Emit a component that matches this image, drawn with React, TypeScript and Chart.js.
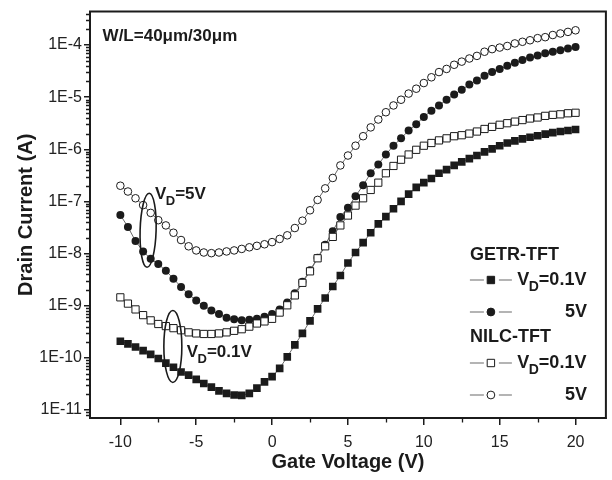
import { useEffect, useRef } from "react";
import { Chart, registerables } from "chart.js";

Chart.register(...registerables);

const gateVoltage = [
  -10, -9.5, -9, -8.5, -8, -7.5, -7, -6.5, -6, -5.5, -5, -4.5, -4, -3.5, -3, -2.5, -2, -1.5, -1, -0.5,
  0, 0.5, 1, 1.5, 2, 2.5, 3, 3.5, 4, 4.5, 5, 5.5, 6, 6.5, 7, 7.5, 8, 8.5, 9, 9.5,
  10, 10.5, 11, 11.5, 12, 12.5, 13, 13.5, 14, 14.5, 15, 15.5, 16, 16.5, 17, 17.5, 18, 18.5, 19, 19.5, 20,
];

// GETR-TFT, VD = 0.1 V (filled squares)
const getrVd01 = [
  2.09e-10, 1.86e-10, 1.62e-10, 1.38e-10, 1.17e-10, 9.77e-11, 7.94e-11, 6.61e-11, 5.37e-11, 4.68e-11,
  3.89e-11, 3.24e-11, 2.75e-11, 2.34e-11, 2.09e-11, 1.95e-11, 1.91e-11, 2.09e-11, 2.63e-11, 3.47e-11,
  4.37e-11, 6.31e-11, 1.05e-10, 1.78e-10, 2.95e-10, 5.13e-10, 8.71e-10, 1.41e-9, 2.34e-9, 3.8e-9,
  6.61e-9, 1.05e-8, 1.62e-8, 2.51e-8, 3.72e-8, 5.13e-8, 7.24e-8, 1.0e-7, 1.38e-7, 1.86e-7,
  2.29e-7, 2.75e-7, 3.47e-7, 4.07e-7, 4.9e-7, 5.75e-7, 6.61e-7, 7.59e-7, 8.91e-7, 1.02e-6,
  1.17e-6, 1.32e-6, 1.45e-6, 1.58e-6, 1.7e-6, 1.82e-6, 1.95e-6, 2.09e-6, 2.19e-6, 2.29e-6, 2.4e-6,
];

// GETR-TFT, VD = 5 V (filled circles)
const getrVd5 = [
  5.5e-8, 3.24e-8, 1.74e-8, 1.1e-8, 7.94e-9, 6.31e-9, 4.68e-9, 3.31e-9, 2.29e-9, 1.66e-9,
  1.26e-9, 1.0e-9, 8.13e-10, 6.92e-10, 5.89e-10, 5.5e-10, 5.25e-10, 5.37e-10, 5.62e-10, 6.17e-10,
  6.92e-10, 8.51e-10, 1.15e-9, 1.74e-9, 2.88e-9, 4.79e-9, 8.32e-9, 1.48e-8, 2.69e-8, 5.01e-8,
  7.59e-8, 1.26e-7, 2.04e-7, 3.47e-7, 5.13e-7, 7.94e-7, 1.17e-6, 1.62e-6, 2.29e-6, 3.02e-6,
  4.17e-6, 5.5e-6, 6.92e-6, 8.91e-6, 1.12e-5, 1.38e-5, 1.74e-5, 2.09e-5, 2.57e-5, 3.02e-5,
  3.47e-5, 3.98e-5, 4.57e-5, 5.13e-5, 5.75e-5, 6.31e-5, 6.92e-5, 7.41e-5, 7.94e-5, 8.51e-5, 9.12e-5,
];

// NILC-TFT, VD = 0.1 V (open squares)
const nilcVd01 = [
  1.45e-9, 1.1e-9, 8.51e-10, 6.61e-10, 5.25e-10, 4.47e-10, 4.07e-10, 3.72e-10, 3.39e-10, 3.09e-10,
  2.95e-10, 2.88e-10, 2.88e-10, 2.95e-10, 3.09e-10, 3.31e-10, 3.55e-10, 3.98e-10, 4.57e-10, 5.01e-10,
  5.62e-10, 7.41e-10, 1.02e-9, 1.58e-9, 2.75e-9, 4.57e-9, 8.13e-9, 1.38e-8, 2.09e-8, 3.47e-8,
  5.37e-8, 8.32e-8, 1.15e-7, 1.66e-7, 2.29e-7, 3.47e-7, 4.79e-7, 6.31e-7, 7.94e-7, 9.77e-7,
  1.17e-6, 1.32e-6, 1.48e-6, 1.62e-6, 1.78e-6, 1.86e-6, 2.0e-6, 2.19e-6, 2.45e-6, 2.69e-6,
  2.95e-6, 3.16e-6, 3.39e-6, 3.63e-6, 3.89e-6, 4.07e-6, 4.37e-6, 4.57e-6, 4.68e-6, 4.9e-6, 5.01e-6,
];

// NILC-TFT, VD = 5 V (open circles)
const nilcVd5 = [
  2.0e-7, 1.55e-7, 1.15e-7, 8.51e-8, 6.03e-8, 4.37e-8, 3.47e-8, 2.51e-8, 1.82e-8, 1.38e-8,
  1.15e-8, 1.05e-8, 1.02e-8, 1.05e-8, 1.1e-8, 1.15e-8, 1.23e-8, 1.32e-8, 1.41e-8, 1.51e-8,
  1.66e-8, 1.91e-8, 2.24e-8, 3.09e-8, 4.27e-8, 6.76e-8, 1.07e-7, 1.78e-7, 2.82e-7, 4.9e-7,
  7.59e-7, 1.17e-6, 1.78e-6, 2.63e-6, 3.72e-6, 5.13e-6, 6.92e-6, 8.91e-6, 1.17e-5, 1.45e-5,
  1.86e-5, 2.4e-5, 3.02e-5, 3.47e-5, 4.17e-5, 4.79e-5, 5.5e-5, 6.17e-5, 7.41e-5, 8.32e-5,
  8.91e-5, 9.55e-5, 1.07e-4, 1.15e-4, 1.23e-4, 1.35e-4, 1.41e-4, 1.55e-4, 1.66e-4, 1.78e-4, 1.91e-4,
];

const xMajorTicks = [-10, -5, 0, 5, 10, 15, 20];
const xMinorTicks = [-7.5, -2.5, 2.5, 7.5, 12.5, 17.5];
const yMajorTicks = [1e-11, 1e-10, 1e-9, 1e-8, 1e-7, 1e-6, 1e-5, 1e-4];
const yTickLabels = ["1E-11", "1E-10", "1E-9", "1E-8", "1E-7", "1E-6", "1E-5", "1E-4"];
const yMinorDecades = [1e-12, 1e-11, 1e-10, 1e-9, 1e-8, 1e-7, 1e-6, 1e-5, 1e-4];
const yMinorMultipliers = [2, 3, 4, 5, 6, 7, 8, 9];

const FONT = "'Liberation Sans', Arial, Helvetica, sans-serif";
const INK = "#1b1b1b";
const LINE = "#6a6a6a";

// annotation anchors in data coordinates
const annotVd5 = { x: -7.72, y: 1.4e-7 };
const annotVd01 = { x: -5.63, y: 1.3e-10 };
const annotWL = { x: -11.17, y: 1.46e-4 };
const ellipse5 = { x: -8.17, y: 2.8e-8 };
const ellipse01 = { x: -6.54, y: 1.66e-10 };

function drawVD(ctx: CanvasRenderingContext2D, x: number, y: number, rest: string, size: number, alignRight: boolean) {
  const big = `bold ${size}px ${FONT}`;
  const small = `bold ${Math.round(size * 0.78)}px ${FONT}`;
  ctx.font = big;
  const wV = ctx.measureText("V").width;
  const wRest = ctx.measureText(rest).width;
  ctx.font = small;
  const wD = ctx.measureText("D").width;
  const total = wV + wD + wRest;
  const x0 = alignRight ? x - total : x;
  ctx.textAlign = "left";
  ctx.textBaseline = "middle";
  ctx.font = big;
  ctx.fillText("V", x0, y);
  ctx.font = small;
  ctx.fillText("D", x0 + wV - 0.5, y + size * 0.42);
  ctx.font = big;
  ctx.fillText(rest, x0 + wV + wD - 0.5, y);
}

const overlayPlugin = {
  id: "overlay",
  afterDraw(chart: any) {
    const { ctx, chartArea, scales } = chart;
    const { left, right, top, bottom } = chartArea;
    const xs = scales.x;
    const ys = scales.y;
    ctx.save();
    // frame top/right
    ctx.strokeStyle = INK;
    ctx.lineWidth = 2;
    ctx.beginPath();
    ctx.moveTo(left - 1, top);
    ctx.lineTo(right, top);
    ctx.lineTo(right, bottom + 1);
    ctx.stroke();
    // minor ticks
    ctx.lineWidth = 1.3;
    ctx.beginPath();
    for (const v of xMinorTicks) {
      const px = Math.round(xs.getPixelForValue(v)) + 0.5;
      ctx.moveTo(px, bottom);
      ctx.lineTo(px, bottom + 4.5);
    }
    for (const d of yMinorDecades) {
      for (const k of yMinorMultipliers) {
        const v = k * d;
        if (v <= ys.min || v >= ys.max) continue;
        const py = Math.round(ys.getPixelForValue(v)) + 0.5;
        ctx.moveTo(left, py);
        ctx.lineTo(left - 4, py);
      }
    }
    ctx.stroke();

    // annotations
    ctx.fillStyle = INK;
    ctx.font = `bold 17px ${FONT}`;
    ctx.textAlign = "left";
    ctx.textBaseline = "middle";
    ctx.fillText("W/L=40\u03bcm/30\u03bcm", xs.getPixelForValue(annotWL.x), ys.getPixelForValue(annotWL.y));
    drawVD(ctx, xs.getPixelForValue(annotVd5.x), ys.getPixelForValue(annotVd5.y), "=5V", 17, false);
    drawVD(ctx, xs.getPixelForValue(annotVd01.x), ys.getPixelForValue(annotVd01.y), "=0.1V", 17, false);

    ctx.lineWidth = 1.6;
    ctx.strokeStyle = INK;
    ctx.beginPath();
    ctx.ellipse(xs.getPixelForValue(ellipse5.x), ys.getPixelForValue(ellipse5.y), 8, 37, 0.03, 0, Math.PI * 2);
    ctx.stroke();
    ctx.beginPath();
    ctx.ellipse(xs.getPixelForValue(ellipse01.x), ys.getPixelForValue(ellipse01.y), 9, 36, 0, 0, Math.PI * 2);
    ctx.stroke();

    // legend
    const lx = right - 136;
    const rx = right - 19;
    const mx = lx + 21;
    const rows = [
      { kind: "head", text: "GETR-TFT", y: bottom - 163 },
      { kind: "item", shape: "rect", fill: true, label: "0.1", y: bottom - 138 },
      { kind: "item", shape: "circle", fill: true, label: "5", y: bottom - 106 },
      { kind: "head", text: "NILC-TFT", y: bottom - 81 },
      { kind: "item", shape: "rect", fill: false, label: "0.1", y: bottom - 55 },
      { kind: "item", shape: "circle", fill: false, label: "5", y: bottom - 23 },
    ];
    for (const r of rows) {
      if (r.kind === "head") {
        ctx.fillStyle = INK;
        ctx.font = `bold 18px ${FONT}`;
        ctx.textAlign = "left";
        ctx.textBaseline = "middle";
        ctx.fillText(r.text as string, lx, r.y);
        continue;
      }
      ctx.strokeStyle = LINE;
      ctx.lineWidth = 1.2;
      ctx.beginPath();
      ctx.moveTo(lx, r.y);
      ctx.lineTo(mx - 7, r.y);
      ctx.moveTo(mx + 8, r.y);
      ctx.lineTo(lx + 42, r.y);
      ctx.stroke();
      ctx.fillStyle = r.fill ? INK : "#ffffff";
      ctx.strokeStyle = INK;
      ctx.lineWidth = 1;
      ctx.beginPath();
      if (r.shape === "rect") {
        ctx.rect(mx - 3.7, r.y - 3.7, 7.4, 7.4);
      } else {
        ctx.arc(mx, r.y, 3.9, 0, Math.PI * 2);
      }
      ctx.fill();
      ctx.stroke();
      ctx.fillStyle = INK;
      if (r.label === "0.1") {
        drawVD(ctx, rx, r.y, "=0.1V", 18, true);
      } else {
        ctx.font = `bold 18px ${FONT}`;
        ctx.textAlign = "right";
        ctx.textBaseline = "middle";
        ctx.fillText("5V", rx, r.y);
      }
    }
    ctx.restore();
  },
};

export default function App() {
  const ref = useRef<HTMLCanvasElement | null>(null);
  useEffect(() => {
    if (!ref.current) return;
    const mk = (vals: number[]) => gateVoltage.map((v, i) => ({ x: v, y: vals[i] }));
    const chart = new Chart(ref.current, {
      type: "line",
      data: {
        datasets: [
          {
            label: "NILC-TFT VD=0.1V",
            data: mk(nilcVd01),
            order: 0,
            borderColor: LINE,
            borderWidth: 1,
            pointStyle: "rect",
            pointRadius: 5.1,
            pointBackgroundColor: "#ffffff",
            pointBorderColor: INK,
            pointBorderWidth: 1,
          },
          {
            label: "NILC-TFT VD=5V",
            data: mk(nilcVd5),
            order: 1,
            borderColor: LINE,
            borderWidth: 1,
            pointStyle: "circle",
            pointRadius: 3.8,
            pointBackgroundColor: "#ffffff",
            pointBorderColor: INK,
            pointBorderWidth: 1,
          },
          {
            label: "GETR-TFT VD=5V",
            data: mk(getrVd5),
            order: 2,
            borderColor: LINE,
            borderWidth: 1,
            pointStyle: "circle",
            pointRadius: 4,
            pointBackgroundColor: INK,
            pointBorderColor: INK,
            pointBorderWidth: 0,
          },
          {
            label: "GETR-TFT VD=0.1V",
            data: mk(getrVd01),
            order: 3,
            borderColor: LINE,
            borderWidth: 1,
            pointStyle: "rect",
            pointRadius: 5.4,
            pointBackgroundColor: INK,
            pointBorderColor: INK,
            pointBorderWidth: 0,
          },
        ],
      },
      options: {
        responsive: false,
        animation: false,
        events: [],
        layout: { padding: { left: 0, right: 4, top: 7, bottom: 0 } },
        plugins: { legend: { display: false }, tooltip: { enabled: false } },
        scales: {
          x: {
            type: "linear",
            min: -12,
            max: 22,
            afterBuildTicks: (s: any) => {
              s.ticks = xMajorTicks.map((v) => ({ value: v }));
            },
            afterFit: (s: any) => {
              s.height = 62;
            },
            ticks: {
              color: "#222",
              font: { family: FONT, size: 16 },
              padding: 8,
              maxRotation: 0,
              callback: (v: any) => String(v),
            },
            grid: { drawOnChartArea: false, drawTicks: true, tickLength: 7, color: INK, lineWidth: 1.5 },
            border: { display: true, color: INK, width: 2 },
            title: {
              display: true,
              text: "Gate Voltage (V)",
              color: INK,
              font: { family: FONT, size: 20, weight: "bold" },
              padding: { top: 0, bottom: 6 },
            },
          },
          y: {
            type: "logarithmic",
            min: 7.05e-12,
            max: 4.36e-4,
            afterBuildTicks: (s: any) => {
              s.ticks = yMajorTicks.map((v) => ({ value: v }));
            },
            afterFit: (s: any) => {
              s.width = 90;
            },
            ticks: {
              color: "#222",
              font: { family: FONT, size: 16 },
              padding: 2,
              callback: (v: any) => {
                const i = yMajorTicks.findIndex((t) => Math.abs(t - v) / t < 1e-6);
                return i >= 0 ? yTickLabels[i] : "";
              },
            },
            grid: { drawOnChartArea: false, drawTicks: true, tickLength: 6, color: INK, lineWidth: 1.5 },
            border: { display: true, color: INK, width: 2 },
            title: {
              display: true,
              text: "Drain Current (A)",
              color: INK,
              font: { family: FONT, size: 20, weight: "bold" },
              padding: { top: 14, bottom: 0 },
            },
          },
        },
      },
      plugins: [overlayPlugin],
    } as any);
    return () => chart.destroy();
  }, []);
  return (
    <div style={{ position: "absolute", left: 0, top: 0, width: 612, height: 480, background: "#fff" }}>
      <canvas ref={ref} width={612} height={480} style={{ display: "block", width: 612, height: 480 }} />
    </div>
  );
}
